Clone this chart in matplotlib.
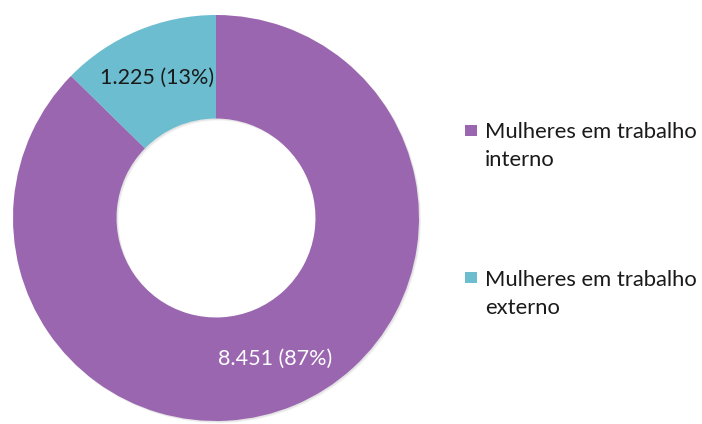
import matplotlib.pyplot as plt
import numpy as np
from matplotlib.patches import Rectangle

# women by type of work
labels = ["Mulheres em trabalho\ninterno", "Mulheres em trabalho\nexterno"]
values = [8451, 1225]
colors = ["#9B66B0", "#6CBDD0"]
label_colors = ["white", "#1a1a1a"]

W, H = 702, 424
fig = plt.figure(figsize=(W / 100, H / 100), dpi=100)
plt.rcParams['font.family'] = ['Lato', 'DejaVu Sans']

# donut centre and radius in pixels
cx, cy, r = 216, 218, 203
ax = fig.add_axes([(cx - r) / W, (H - cy - r) / H, 2 * r / W, 2 * r / H])
ax.set_aspect('equal')
ax.axis('off')

# soft drop shadow under the ring
sh = 2.0 / r
for k, a in [(1.0, 0.10), (0.6, 0.12)]:
    ax.pie(values, radius=1, startangle=90, counterclock=False,
           colors=["#808080", "#808080"], center=(sh * k, -sh * k),
           wedgeprops=dict(width=0.51, linewidth=0, alpha=a))

total = sum(values)


def fmt(v):
    return "{:,}".format(v).replace(",", ".")


wedges, _ = ax.pie(values, radius=1, startangle=90, counterclock=False,
                   colors=colors, wedgeprops=dict(width=0.51, linewidth=0))
ax.set_xlim(-1, 1)
ax.set_ylim(-1, 1)

for w, v, c in zip(wedges, values, label_colors):
    ang = np.deg2rad((w.theta1 + w.theta2) / 2)
    ax.text(0.75 * np.cos(ang), 0.75 * np.sin(ang),
            f"{fmt(v)} ({round(100 * v / total)}%)",
            ha='center', va='center', fontsize=15.5, color=c)

# legend drawn by hand so the marker sits on the first line
sq_tops = [125, 272]
baselines = [138, 286]
for lab, col, top, base in zip(labels, colors, sq_tops, baselines):
    fig.add_artist(Rectangle((465 / W, 1 - (top + 11) / H), 12 / W, 11 / H,
                             transform=fig.transFigure, facecolor=col,
                             edgecolor='none'))
    for i, line in enumerate(lab.split("\n")):
        fig.text(485 / W, 1 - (base + 28 * i) / H, line, ha='left',
                 va='baseline', fontsize=15.8, color="#1a1a1a")

fig.savefig("out.png", dpi=100)
